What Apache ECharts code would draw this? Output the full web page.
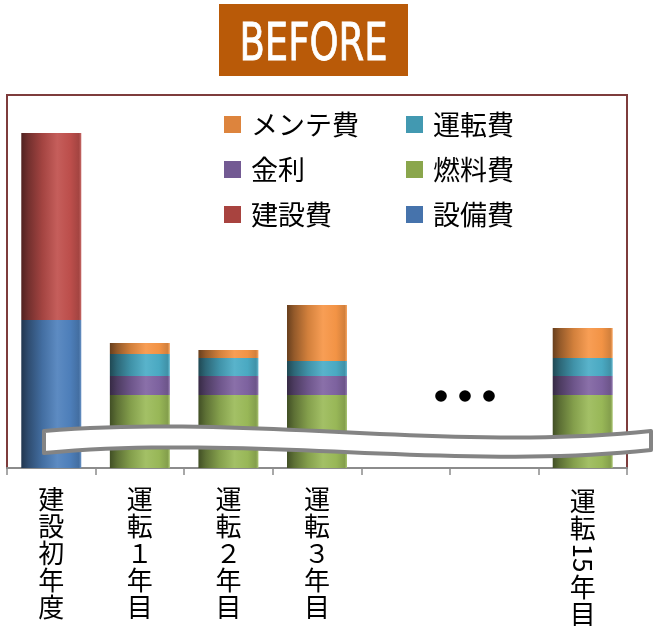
<!DOCTYPE html>
<html>
<head>
<meta charset="utf-8">
<script src="https://cdn.jsdelivr.net/npm/echarts@6/dist/echarts.min.js"></script>
<style>html,body{margin:0;padding:0;background:#fff;}#c{width:656px;height:634px;}</style>
</head>
<body>
<div id="c"></div>
<script>
// ---- data (visual units; y-axis is broken so values are relative heights) ----
const categories = ['建設初年度', '運転１年目', '運転２年目', '運転３年目', ' ', '  ', '運転15年目'];
const setsubi  = [148, null, null, null, null, null, null];   // 設備費
const kensetsu = [187, null, null, null, null, null, null];   // 建設費
const nenryo   = [null, 73, 73, 73, null, null, 73];          // 燃料費
const kinri    = [null, 19, 19, 19, null, null, 19];          // 金利
const unten    = [null, 22, 18, 15, null, null, 18];          // 運転費
const mente    = [null, 11, 8, 56, null, null, 30];           // メンテ費
const legendLeft  = ['メンテ費', '金利', '建設費'];
const legendRight = ['運転費', '燃料費', '設備費'];
const yMax = 373;

const JP = '"Noto Sans CJK JP", "Noto Sans", sans-serif';
const base = {
  '設備費': '#4F81BD', '建設費': '#C0504D', '燃料費': '#9BBB59',
  '金利': '#8064A2', '運転費': '#4BACC6', 'メンテ費': '#F79646'
};
const legendColor = {
  '設備費': '#4673AC', '建設費': '#A8433F', '燃料費': '#8AA64C',
  '金利': '#735A93', '運転費': '#4299B1', 'メンテ費': '#DD843D'
};
function shade(hex, f) {
  const n = parseInt(hex.slice(1), 16);
  let r = (n >> 16) & 255, g = (n >> 8) & 255, b = n & 255;
  if (f <= 1) { r *= f; g *= f; b *= f; }
  else { const t = f - 1; r += (255 - r) * t; g += (255 - g) * t; b += (255 - b) * t; }
  return 'rgb(' + Math.round(r) + ',' + Math.round(g) + ',' + Math.round(b) + ')';
}
function grad(hex) {
  return new echarts.graphic.LinearGradient(0, 0, 1, 0, [
    { offset: 0, color: shade(hex, 0.42) },
    { offset: 0.12, color: shade(hex, 0.6) },
    { offset: 0.35, color: shade(hex, 0.85) },
    { offset: 0.6, color: shade(hex, 1.08) },
    { offset: 0.82, color: shade(hex, 0.98) },
    { offset: 0.96, color: shade(hex, 0.85) },
    { offset: 1, color: shade(hex, 1.15) }
  ]);
}
function mk(name, data) {
  return {
    name: name, type: 'bar', stack: 'total', data: data, barWidth: 60,
    itemStyle: { color: grad(base[name]) }, emphasis: { disabled: true }
  };
}
function legendOf(names, left) {
  return {
    orient: 'vertical', left: left, top: 111, padding: 0,
    itemWidth: 17, itemHeight: 17, itemGap: 18, icon: 'rect',
    selectedMode: false,
    textStyle: { fontFamily: JP, fontSize: 27, lineHeight: 26, color: '#000', padding: [0, 0, 0, 5] },
    data: names.map(n => ({ name: n, itemStyle: { color: legendColor[n] } }))
  };
}
// cubic bezier sampler for the axis-break ribbon outline
function bez(p0, p1, p2, p3, n) {
  const pts = [];
  for (let i = 0; i <= n; i++) {
    const t = i / n, u = 1 - t;
    pts.push([
      u*u*u*p0[0] + 3*u*u*t*p1[0] + 3*u*t*t*p2[0] + t*t*t*p3[0],
      u*u*u*p0[1] + 3*u*u*t*p1[1] + 3*u*t*t*p2[1] + t*t*t*p3[1]
    ]);
  }
  return pts;
}
const ribbon = bez([44,431],[250,414],[450,452],[651,431],40)
  .concat(bez([651,450],[450,471],[250,434],[44,453],40));

const titleText = 'BEFORE';
const titleFont = '52px "Liberation Sans Narrow", "DejaVu Sans Condensed", sans-serif';
const cv = document.createElement('canvas').getContext('2d');
cv.font = titleFont;
const tw = cv.measureText(titleText).width || 146;
const titleScale = 148 / tw;

const chart = echarts.init(document.getElementById('c'), null, { renderer: 'canvas' });
chart.setOption({
  animation: false,
  grid: { left: 7, right: 29, top: 95, bottom: 166, show: true, borderColor: '#7E3C3C', borderWidth: 2, backgroundColor: 'transparent' },
  legend: [legendOf(legendLeft, 224), legendOf(legendRight, 406)],
  xAxis: {
    type: 'category', data: categories, boundaryGap: true,
    axisLine: { lineStyle: { color: '#8C8C8C', width: 2 } },
    axisTick: { show: true, length: 7, lineStyle: { color: '#8C8C8C', width: 1.5 } },
    axisLabel: {
      interval: 0, margin: 18, fontFamily: JP, fontSize: 26, lineHeight: 27, color: '#000',
      formatter: v => (v.trim() === '' || v === '運転15年目') ? '' : v.split('').join('\n')
    }
  },
  yAxis: { type: 'value', min: 0, max: yMax, show: false, splitLine: { show: false } },
  series: [
    mk('設備費', setsubi), mk('建設費', kensetsu), mk('燃料費', nenryo),
    mk('金利', kinri), mk('運転費', unten), mk('メンテ費', mente)
  ]
});

const x15 = chart.convertToPixel({ xAxisIndex: 0 }, '運転15年目');
const labTop = 468 + 20;
chart.setOption({
  graphic: [
    { type: 'rect', z: 100, shape: { x: 219, y: 4, width: 189, height: 72 }, style: { fill: '#B95A08' } },
    { type: 'text', z: 101, x: 313.5, y: 46, scaleX: titleScale, style: {
        text: titleText, fill: '#fff', align: 'center', verticalAlign: 'middle', font: titleFont,
        stroke: '#fff', lineWidth: 0.8 } },
    { type: 'polygon', z: 100, shape: { points: ribbon },
      style: { fill: '#fff', stroke: '#848484', lineWidth: 4, lineJoin: 'round' } },
    { type: 'circle', z: 100, shape: { cx: 441, cy: 396, r: 5.8 }, style: { fill: '#000' } },
    { type: 'circle', z: 100, shape: { cx: 465, cy: 396, r: 5.8 }, style: { fill: '#000' } },
    { type: 'circle', z: 100, shape: { cx: 489, cy: 396, r: 5.8 }, style: { fill: '#000' } },
    { type: 'text', z: 100, x: x15, y: labTop, style: {
        text: '運\n転', fill: '#000', align: 'center', verticalAlign: 'top',
        fontFamily: JP, fontSize: 26, lineHeight: 27 } },
    { type: 'text', z: 100, x: x15, y: labTop + 54 + 16, rotation: -Math.PI / 2, style: {
        text: '15', fill: '#000', align: 'center', verticalAlign: 'middle',
        fontFamily: JP, fontSize: 26 } },
    { type: 'text', z: 100, x: x15, y: labTop + 54 + 32, style: {
        text: '年\n目', fill: '#000', align: 'center', verticalAlign: 'top',
        fontFamily: JP, fontSize: 26, lineHeight: 27 } }
  ]
});
</script>
</body>
</html>
